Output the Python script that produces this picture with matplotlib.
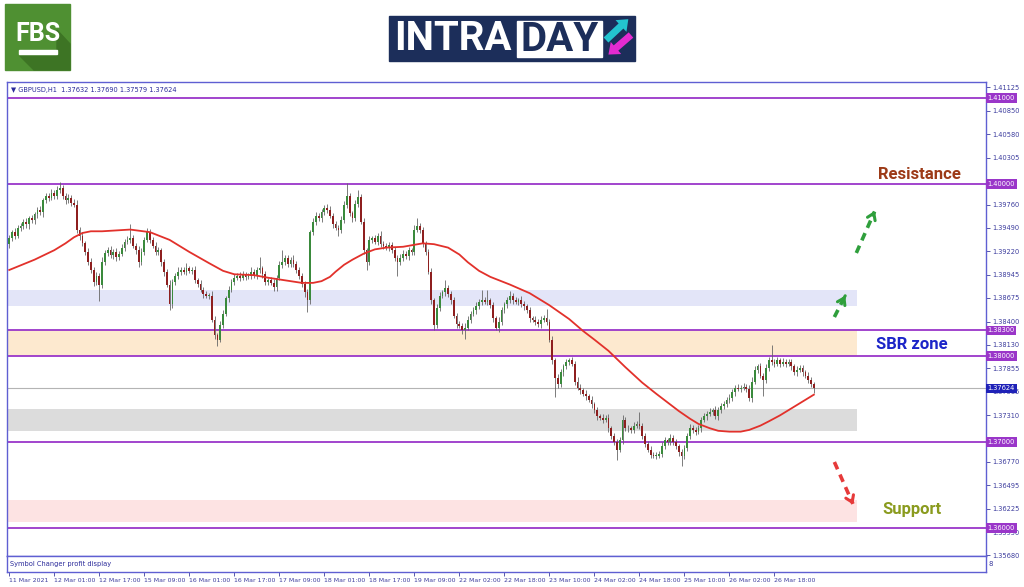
import matplotlib
matplotlib.use("Agg")
import matplotlib.pyplot as plt
from matplotlib.patches import Rectangle, Polygon, FancyArrow

# hourly closes, GBPUSD H1
closes = [
    1.3937, 1.3944, 1.3940, 1.3949, 1.3951, 1.3956, 1.3953, 1.3960, 1.3958, 1.3965,
    1.3970, 1.3967, 1.3981, 1.3986, 1.3984, 1.3990, 1.3986, 1.3993, 1.3995, 1.3986,
    1.3981, 1.3984, 1.3978, 1.3976, 1.3947, 1.3940, 1.3931, 1.3921, 1.3909, 1.3900,
    1.3886, 1.3893, 1.3883, 1.3909, 1.3920, 1.3923, 1.3917, 1.3921, 1.3915, 1.3919,
    1.3926, 1.3933, 1.3935, 1.3937, 1.3928, 1.3923, 1.3909, 1.3921, 1.3935, 1.3944,
    1.3935, 1.3928, 1.3921, 1.3923, 1.3909, 1.3898, 1.3883, 1.3860, 1.3886, 1.3893,
    1.3898, 1.3900, 1.3898, 1.3902, 1.3899, 1.3900, 1.3888, 1.3884, 1.3877, 1.3872,
    1.3870, 1.3870, 1.3842, 1.3824, 1.3819, 1.3836, 1.3849, 1.3867, 1.3877, 1.3886,
    1.3891, 1.3893, 1.3891, 1.3895, 1.3892, 1.3893, 1.3898, 1.3894, 1.3900, 1.3902,
    1.3895, 1.3886, 1.3888, 1.3885, 1.3880, 1.3891, 1.3906, 1.3909, 1.3914, 1.3907,
    1.3912, 1.3907, 1.3900, 1.3893, 1.3884, 1.3874, 1.3865, 1.3944, 1.3956, 1.3963,
    1.3960, 1.3967, 1.3972, 1.3970, 1.3963, 1.3953, 1.3949, 1.3947, 1.3958, 1.3976,
    1.3986, 1.3966, 1.3960, 1.3977, 1.3985, 1.3956, 1.3923, 1.3909, 1.3935, 1.3937,
    1.3933, 1.3940, 1.3930, 1.3928, 1.3926, 1.3929, 1.3923, 1.3914, 1.3909, 1.3914,
    1.3919, 1.3916, 1.3923, 1.3921, 1.3947, 1.3951, 1.3947, 1.3930, 1.3921, 1.3898,
    1.3865, 1.3836, 1.3856, 1.3870, 1.3874, 1.3879, 1.3872, 1.3865, 1.3847, 1.3837,
    1.3835, 1.3830, 1.3833, 1.3842, 1.3849, 1.3853, 1.3858, 1.3863, 1.3865, 1.3863,
    1.3865, 1.3859, 1.3844, 1.3833, 1.3840, 1.3853, 1.3860, 1.3865, 1.3870, 1.3865,
    1.3863, 1.3865, 1.3860, 1.3858, 1.3853, 1.3844, 1.3842, 1.3840, 1.3837, 1.3842,
    1.3844, 1.3840, 1.3819, 1.3795, 1.3774, 1.3767, 1.3781, 1.3788, 1.3793, 1.3795,
    1.3791, 1.3770, 1.3763, 1.3760, 1.3756, 1.3753, 1.3749, 1.3744, 1.3737, 1.3730,
    1.3728, 1.3726, 1.3728, 1.3716, 1.3707, 1.3700, 1.3691, 1.3702, 1.3726, 1.3716,
    1.3716, 1.3714, 1.3719, 1.3721, 1.3719, 1.3707, 1.3698, 1.3691, 1.3685, 1.3684,
    1.3684, 1.3686, 1.3695, 1.3702, 1.3700, 1.3705, 1.3700, 1.3695, 1.3688, 1.3684,
    1.3693, 1.3707, 1.3716, 1.3714, 1.3712, 1.3716, 1.3726, 1.3730, 1.3733, 1.3735,
    1.3737, 1.3730, 1.3737, 1.3742, 1.3744, 1.3749, 1.3751, 1.3758, 1.3763, 1.3762,
    1.3763, 1.3764, 1.3762, 1.3751, 1.3770, 1.3784, 1.3788, 1.3777, 1.3772, 1.3786,
    1.3795, 1.3793, 1.3791, 1.3795, 1.3791, 1.3793, 1.3791, 1.3793, 1.3788, 1.3781,
    1.3784, 1.3786, 1.3781, 1.3777, 1.3772, 1.3767, 1.37624,
]
first_open = 1.3930

# upper / lower shadows in pips
wick_up = [
    4, 3, 5, 3, 4, 3, 5, 3, 4, 3,   3, 4, 3, 4, 3, 4, 3, 5, 7, 4,
    3, 4, 3, 4, 5, 3, 4, 3, 4, 5,   4, 5, 4, 6, 3, 4, 5, 3, 4, 3,
    4, 3, 5, 16, 4, 3, 5, 4, 3, 5,  4, 3, 5, 4, 3, 4, 3, 5, 4, 3,
    5, 3, 4, 6, 3, 4, 5, 3, 4, 3,   4, 3, 5, 4, 3, 5, 4, 3, 4, 3,
    4, 3, 5, 4, 3, 4, 5, 3, 4, 13,  3, 4, 3, 4, 5, 3, 4, 14, 3, 4,
    3, 5, 4, 3, 4, 3, 4, 3, 5, 4,   3, 4, 3, 5, 4, 3, 4, 3, 5, 4,
    15, 4, 3, 4, 8, 3, 4, 3, 4, 3,  4, 3, 5, 4, 3, 4, 3, 4, 3, 5,
    4, 3, 4, 3, 5, 9, 4, 3, 4, 3,   4, 3, 5, 4, 3, 9, 4, 3, 4, 3,
    4, 3, 5, 4, 3, 4, 5, 3, 12, 4,  12, 3, 4, 3, 5, 4, 3, 4, 5, 3,
    4, 3, 5, 4, 3, 4, 3, 4, 3, 5,   4, 11, 3, 4, 3, 5, 4, 3, 4, 3,
    4, 3, 5, 4, 3, 4, 3, 4, 3, 4,   3, 4, 3, 4, 3, 4, 3, 4, 5, 3,
    4, 3, 4, 3, 14, 3, 4, 3, 4, 3,  4, 3, 5, 4, 3, 4, 3, 4, 3, 4,
    4, 3, 5, 4, 3, 4, 3, 4, 3, 4,   3, 5, 4, 3, 4, 3, 5, 4, 3, 4,
    3, 4, 3, 4, 5, 4, 3, 4, 3, 5,   4, 18, 3, 4, 3, 5, 4, 3, 4, 3,
    4, 3, 4, 3, 4, 3, 3,
]
wick_dn = [
    5, 3, 4, 3, 4, 3, 4, 5, 3, 4,   4, 3, 5, 3, 4, 3, 4, 3, 4, 3,
    4, 3, 4, 3, 4, 5, 3, 4, 3, 4,   5, 3, 19, 4, 3, 4, 3, 4, 5, 3,
    3, 4, 3, 4, 3, 4, 5, 3, 4, 3,   4, 3, 4, 3, 4, 5, 3, 7, 4, 3,
    3, 4, 3, 4, 3, 4, 3, 4, 3, 4,   3, 4, 3, 4, 7, 3, 4, 3, 4, 3,
    4, 3, 4, 3, 4, 3, 4, 3, 4, 3,   4, 3, 4, 3, 5, 4, 3, 4, 3, 4,
    4, 3, 4, 3, 4, 5, 14, 4, 3, 4,  3, 4, 3, 4, 3, 4, 3, 7, 4, 3,
    4, 3, 4, 3, 4, 3, 4, 9, 3, 4,   3, 4, 3, 4, 3, 4, 3, 4, 16, 3,
    4, 3, 4, 3, 4, 3, 4, 3, 4, 3,   4, 6, 3, 4, 3, 4, 3, 4, 3, 4,
    3, 4, 10, 3, 4, 3, 4, 3, 4, 3,  4, 3, 4, 3, 5, 4, 3, 4, 3, 4,
    3, 4, 3, 4, 3, 4, 3, 4, 3, 4,   3, 4, 3, 4, 22, 4, 3, 4, 3, 4,
    3, 4, 3, 4, 3, 4, 3, 4, 3, 4,   3, 4, 3, 4, 3, 4, 12, 3, 4, 3,
    4, 3, 4, 3, 4, 3, 4, 3, 4, 3,   4, 3, 4, 3, 4, 3, 4, 3, 4, 12,
    4, 3, 4, 3, 4, 3, 4, 3, 4, 3,   4, 3, 4, 3, 4, 3, 4, 3, 4, 3,
    4, 3, 4, 3, 4, 3, 4, 3, 18, 3,  4, 3, 4, 3, 4, 3, 4, 3, 4, 3,
    4, 3, 4, 3, 4, 3, 5,
]

# moving average (red line), read at bar positions
ma_idx = [0, 9, 16, 20, 23, 26, 29, 33, 43, 50, 57, 64, 71, 76, 80, 87, 92, 98,
          104, 108, 111, 114, 116, 119, 122, 126, 130, 134, 140, 147, 151, 156,
          160, 163, 167, 171, 178, 185, 192, 199, 204, 208, 213, 219, 225, 230,
          234, 238, 242, 245, 249, 252, 256, 260, 263, 267, 270, 274, 277, 280,
          283, 286]
ma_val = [1.3900, 1.3912, 1.3923, 1.3931, 1.3938, 1.3943, 1.3945, 1.3945, 1.3947,
          1.3944, 1.3935, 1.3921, 1.3908, 1.3899, 1.3895, 1.3894, 1.3891, 1.3888,
          1.3885, 1.3885, 1.3887, 1.3892, 1.3898, 1.3906, 1.3912, 1.3919, 1.3924,
          1.3926, 1.3927, 1.3931, 1.3930, 1.3926, 1.3918, 1.3909, 1.3899, 1.3892,
          1.3883, 1.3873, 1.3859, 1.3843, 1.3829, 1.3819, 1.3806, 1.3787, 1.3769,
          1.3756, 1.3746, 1.3736, 1.3727, 1.3721, 1.3716, 1.3713, 1.3712, 1.3712,
          1.3714, 1.3719, 1.3724, 1.3731, 1.3737, 1.3743, 1.3749, 1.3755]

levels = [1.41, 1.40, 1.383, 1.38, 1.37, 1.36]
level_labels = ["1.41000", "1.40000", "1.38300", "1.38000", "1.37000", "1.36000"]
last_price = 1.37624

zones = [(1.38581, 1.38767, "#e3e5f8"), (1.3800, 1.3830, "#fde9cf"),
         (1.37128, 1.37384, "#dcdcdc"), (1.36070, 1.36326, "#fde3e3")]

yticks = [1.41125, 1.40850, 1.40580, 1.40305, 1.39760, 1.39490, 1.39220,
          1.38945, 1.38675, 1.38400, 1.38130, 1.37855, 1.37585, 1.37310,
          1.36770, 1.36495, 1.36225, 1.35950, 1.35680]

time_labels = ["11 Mar 2021", "12 Mar 01:00", "12 Mar 17:00", "15 Mar 09:00",
               "16 Mar 01:00", "16 Mar 17:00", "17 Mar 09:00", "18 Mar 01:00",
               "18 Mar 17:00", "19 Mar 09:00", "22 Mar 02:00", "22 Mar 18:00",
               "23 Mar 10:00", "24 Mar 02:00", "24 Mar 18:00", "25 Mar 10:00",
               "26 Mar 02:00", "26 Mar 18:00"]
time_idx = [16 * k for k in range(len(time_labels))]

frame = "#5f5fd2"
tick_col = "#3d3d9e"
purple = "#9a36c9"

fig = plt.figure(figsize=(10.24, 5.87), dpi=100)

# logos in pixel coordinates
bg = fig.add_axes([0, 0, 1, 1])
bg.set_xlim(0, 1024)
bg.set_ylim(587, 0)
bg.axis("off")
bg.add_patch(Rectangle((5, 4), 65, 66, color="#4f9032"))
bg.add_patch(Polygon([(20, 56), (57, 56), (57, 30), (70, 44), (70, 70), (34, 70)],
                     color="#3d7424"))
bg.text(38, 34, "FBS", color="white", fontsize=18, fontweight="bold",
        family="Roboto", ha="center", va="center")
bg.add_patch(Rectangle((19, 50), 38, 4, color="white"))

bg.add_patch(Rectangle((389, 16), 246, 45, color="#1c2e5a"))
bg.text(394, 39, "INTRA", color="white", fontsize=29, fontweight="bold",
        family="Roboto", ha="left", va="center")
bg.add_patch(Rectangle((517, 21), 85, 36, color="white"))
bg.text(560, 40, "DAY", color="#1c2e5a", fontsize=29, fontweight="bold",
        family="Roboto", ha="center", va="center")
bg.add_patch(FancyArrow(606, 40, 15, -14, width=7, head_width=16, head_length=10,
                        length_includes_head=False, color="#23c4d0", lw=0))
bg.add_patch(FancyArrow(631, 35, -15, 13, width=7, head_width=16, head_length=10,
                        length_includes_head=False, color="#e42bd1", lw=0))

# main price panel
ax = fig.add_axes([7 / 1024, 1 - 556 / 587, 979 / 1024, 474 / 587])
n = len(closes)
x_max = 347.2
ax.set_xlim(-0.8, x_max)
ax.set_ylim(1.35674, 1.41186)

for lo, hi, col in zones:
    ax.axhspan(lo, hi, xmin=0, xmax=(301.5 + 0.8) / (x_max + 0.8), color=col, lw=0, zorder=0)

for lv in levels:
    ax.axhline(lv, color=purple, lw=1.3, zorder=1)
ax.axhline(last_price, color="#b4b4b4", lw=0.8, zorder=1)

opens = [first_open] + closes[:-1]
for i in range(n):
    o, c = opens[i], closes[i]
    top = max(o, c) + wick_up[i] * 0.0001
    bot = min(o, c) - wick_dn[i] * 0.0001
    ax.vlines(i, bot, top, color="#666666", lw=0.6, zorder=2)
    col = "#3a8a3c" if c >= o else "#8e1f1f"
    h = max(abs(c - o), 0.00006)
    ax.bar(i, h, bottom=min(o, c), width=0.62, color=col, lw=0, zorder=3)

ax.plot(ma_idx, ma_val, color="#e2312b", lw=1.3, zorder=4)

# arrows and labels on the right
def dashed_arrow(x0, y0, x1, y1, col):
    ax.plot([x0, x1], [y0, y1], color=col, lw=2.6, ls=(0, (2.2, 1.6)), zorder=5,
            solid_capstyle="butt", dash_capstyle="butt")
    ax.annotate("", xy=(x1 + (x1 - x0) * 0.08, y1 + (y1 - y0) * 0.08),
                xytext=(x1 - (x1 - x0) * 0.15, y1 - (y1 - y0) * 0.15),
                arrowprops=dict(arrowstyle="->,head_length=0.45,head_width=0.3",
                                lw=2.2, color=col), zorder=5)

dashed_arrow(301.1, 1.39198, 307.6, 1.39680, "#2f9f3c")
dashed_arrow(293.3, 1.38453, 297.3, 1.38710, "#2f9f3c")
dashed_arrow(293.3, 1.36767, 299.9, 1.36280, "#e63a3a")

ax.text(323.5, 1.40105, "Resistance", color="#9c3a17", fontsize=12,
        fontweight="bold", family="Roboto", ha="center", va="center")
ax.text(321, 1.38128, "SBR zone", color="#1c25c8", fontsize=12,
        fontweight="bold", family="Roboto", ha="center", va="center")
ax.text(321, 1.36209, "Support", color="#8a9b1e", fontsize=12,
        fontweight="bold", family="Roboto", ha="center", va="center")

ax.text(0.004, 0.984, "\u25bc GBPUSD,H1  1.37632 1.37690 1.37579 1.37624",
        transform=ax.transAxes, fontsize=4.8, color="#2a2a9a", va="center")

ax.set_xticks([])
ax.yaxis.tick_right()
ax.set_yticks(yticks)
ax.set_yticklabels([f"{v:.5f}" for v in yticks])
ax.tick_params(axis="y", length=3, width=0.6, pad=1.5, labelsize=4.8,
               colors=tick_col)
for s in ax.spines.values():
    s.set_color(frame)
    s.set_linewidth(1.0)

tr = ax.get_yaxis_transform()
for lv, lab in zip(levels, level_labels):
    ax.text(1.0015, lv, lab, transform=tr, fontsize=4.8, color="white",
            va="center", ha="left", clip_on=False, zorder=10,
            bbox=dict(boxstyle="square,pad=0.25", fc=purple, ec="none"))
ax.text(1.0015, last_price, "1.37624", transform=tr, fontsize=4.8, color="white",
        va="center", ha="left", clip_on=False, zorder=10,
        bbox=dict(boxstyle="square,pad=0.25", fc="#1f22b8", ec="none"))

# sub window + time axis
sub = fig.add_axes([7 / 1024, 1 - 572 / 587, 979 / 1024, 16 / 587])
sub.set_xlim(-0.8, x_max)
sub.set_ylim(0, 1)
sub.set_yticks([])
sub.set_xticks(time_idx)
sub.set_xticklabels(time_labels)
sub.tick_params(axis="x", length=3, width=0.6, pad=1.5, labelsize=4.5,
                colors=tick_col)
for lbl in sub.get_xticklabels():
    lbl.set_ha("left")
for s in sub.spines.values():
    s.set_color(frame)
    s.set_linewidth(1.0)
sub.text(0.003, 0.5, "Symbol Changer profit display", transform=sub.transAxes,
         fontsize=4.8, color="#2a2a9a", va="center")
sub.text(1.003, 0.5, "8", transform=sub.transAxes, fontsize=5, color=tick_col,
         va="center", clip_on=False)

fig.savefig("out.png", dpi=100)
